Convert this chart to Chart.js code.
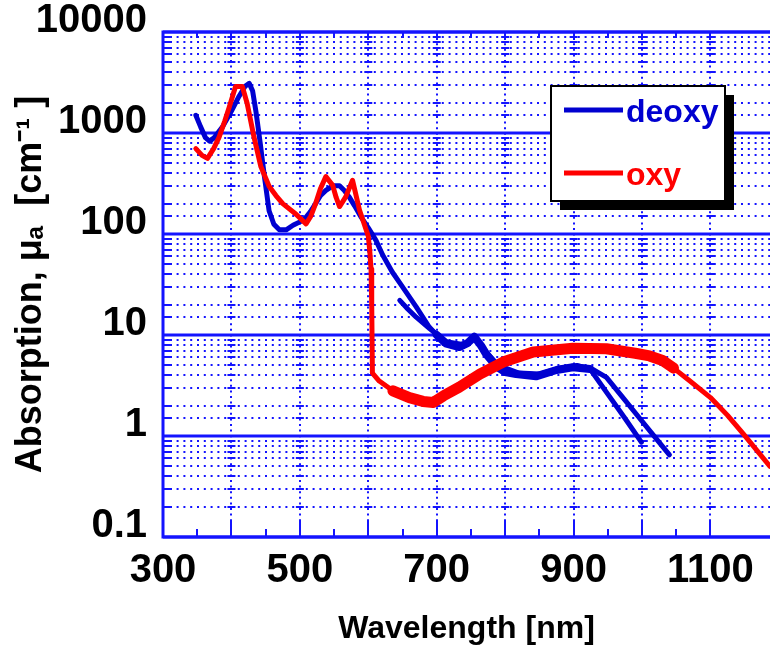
<!DOCTYPE html>
<html>
<head>
<meta charset="utf-8">
<script src="https://cdn.jsdelivr.net/npm/chart.js@4.4.1/dist/chart.umd.min.js"></script>
<style>
  html, body { margin: 0; padding: 0; background: #fff; }
  canvas { display: block; }
</style>
</head>
<body>
<canvas id="myChart" width="770" height="645"></canvas>
<script>
// absorption spectra: wavelength [nm] and mu_a [cm-1]
var deoxyWavelength = [348, 355, 362, 368, 375, 387, 400, 411, 420, 426, 431, 436, 442, 448, 455, 462, 470, 480, 490, 506,
  515, 523, 530, 538, 548, 558, 565, 572, 580, 590, 600, 611, 621, 635, 650, 670, 689, 700, 714, 733,
  745, 755, 765, 772, 787, 800, 816, 845, 875, 899, 924, 950, 975, 999];
var deoxyAbsorption = [1500, 1150, 900, 830, 900, 1150, 1650, 2300, 2900, 3100, 2600, 1600, 800, 380, 170, 125, 110, 110, 122, 138,
  165, 200, 240, 270, 300, 300, 270, 233, 190, 145, 115, 87, 62, 42, 30, 19, 12, 10, 8.2, 7.6,
  8.3, 9.6, 7.8, 6.5, 4.9, 4.3, 4.1, 3.9, 4.5, 4.8, 4.6, 2.6, 1.5, 0.87];

// second deoxy data set (the branch with diamond markers)
var deoxy2Wavelength = [646, 658, 670, 690, 714, 740, 755, 772, 790, 820, 850, 880, 905, 930, 948, 970, 990, 1015, 1040];
var deoxy2Absorption = [22, 18, 15, 11.5, 8.6, 8, 9.4, 6.8, 5, 4.2, 4.1, 4.7, 5, 4.5, 3.8, 2.5, 1.7, 1.05, 0.65];

var oxyWavelength = [348, 357, 365, 374, 382, 390, 397, 406, 416, 423, 433, 443, 455, 465, 475, 494, 509, 516, 523, 530,
  538, 548, 553, 558, 567, 577, 587, 600, 602, 604, 605, 606, 616, 636, 660, 680, 695, 710, 733, 763,
  797, 841, 899, 948, 990, 1011, 1030, 1046, 1070, 1100, 1125, 1148, 1187];
var oxyAbsorption = [700, 600, 560, 700, 910, 1300, 1820, 2880, 2880, 1960, 910, 465, 297, 240, 200, 158, 126, 150, 200, 280,
  370, 303, 230, 187, 233, 340, 174, 95, 70, 45, 20, 4.2, 3.5, 2.8, 2.4, 2.2, 2.15, 2.5, 3.05, 4.1,
  5.4, 6.8, 7.4, 7.3, 6.6, 6.2, 5.6, 4.7, 3.5, 2.4, 1.6, 1.05, 0.5];

var xTickValues = [300, 500, 700, 900, 1100];
var yTickValues = [0.1, 1, 10, 100, 1000, 10000];

var FONT = "'Liberation Sans', Arial, sans-serif";
var gridBlue = '#1414ff';
var deoxyColor = '#0000d0';
var oxyColor = '#ff0000';

function toPoints(xs, ys) {
  return xs.map(function(x, i) { return {x: x, y: ys[i]}; });
}

function isDecade(v) {
  var l = Math.log10(v);
  return Math.abs(l - Math.round(l)) < 1e-6;
}

function seg(ctx, x1, y1, x2, y2) {
  ctx.beginPath();
  ctx.moveTo(x1, y1);
  ctx.lineTo(x2, y2);
  ctx.stroke();
}

// graph-paper style grid, drawn from the scales' own ticks
var gridPlugin = {
  id: 'paperGrid',
  beforeDatasetsDraw: function(chart) {
    var ctx = chart.ctx, a = chart.chartArea;
    var xs = chart.scales.x, ys = chart.scales.y;
    var majorX = xs.ticks.filter(function(t) { return t.value % 100 === 0 && t.value > xs.min; });
    ctx.save();
    ctx.strokeStyle = gridBlue;
    ctx.lineCap = 'butt';

    ys.ticks.forEach(function(t) {
      var py = Math.round(ys.getPixelForValue(t.value));
      if (isDecade(t.value)) {
        ctx.setLineDash([]);
        ctx.lineWidth = 3;
        seg(ctx, a.left, py, a.right, py);
        return;
      }
      ctx.lineWidth = 2;
      ctx.setLineDash([2, 4.8]);
      seg(ctx, a.left, py, a.right, py);
      ctx.setLineDash([]);
      seg(ctx, a.left, py, a.left + 9, py);
      majorX.forEach(function(m) {
        var px = xs.getPixelForValue(m.value);
        seg(ctx, px - 4, py, px + 4, py);
      });
    });

    ctx.lineWidth = 2;
    ctx.setLineDash([2, 3.6]);
    majorX.forEach(function(m) {
      var px = Math.round(xs.getPixelForValue(m.value));
      seg(ctx, px, a.top, px, a.bottom);
    });

    ctx.setLineDash([]);
    xs.ticks.forEach(function(t) {
      if (t.value % 50 !== 0) return;
      var px = Math.round(xs.getPixelForValue(t.value));
      var major = t.value % 100 === 0;
      ctx.lineWidth = 2;
      seg(ctx, px, a.bottom, px, a.bottom - (major ? 16 : 8));
      seg(ctx, px, a.top, px, a.top + (major ? 8 : 6));
    });

    ctx.lineWidth = 3;
    ctx.strokeRect(a.left, a.top, a.right - a.left + 6, a.bottom - a.top);
    ctx.restore();
  }
};

// boxed legend with a drop shadow
var legendPlugin = {
  id: 'boxLegend',
  afterDatasetsDraw: function(chart) {
    var ctx = chart.ctx, a = chart.chartArea;
    var bx = a.left + 388, by = a.top + 54, bw = 174, bh = 115;
    ctx.save();
    ctx.fillStyle = '#000';
    ctx.fillRect(bx + 9, by + 9, bw, bh);
    ctx.fillStyle = '#fff';
    ctx.fillRect(bx, by, bw, bh);
    ctx.lineWidth = 2;
    ctx.strokeStyle = '#000';
    ctx.strokeRect(bx, by, bw, bh);
    var items = chart.data.datasets.filter(function(d) { return d.inLegend; });
    items.forEach(function(d, i) {
      var ly = by + 24 + i * 63;
      ctx.strokeStyle = d.borderColor;
      ctx.lineWidth = 5;
      seg(ctx, bx + 13, ly, bx + 72, ly);
      ctx.fillStyle = d.borderColor;
      ctx.font = 'bold 32px ' + FONT;
      ctx.textBaseline = 'middle';
      ctx.fillText(d.label, bx + 75, ly + 3);
    });
    ctx.restore();
  }
};

function thickBetween(lo, hi, wide, thin) {
  return function(c) {
    return (c.p0.parsed.x >= lo && c.p1.parsed.x <= hi) ? wide : thin;
  };
}

var ctx = document.getElementById('myChart').getContext('2d');
new Chart(ctx, {
  type: 'line',
  data: {
    datasets: [
      {
        label: 'deoxy',
        inLegend: true,
        data: toPoints(deoxyWavelength, deoxyAbsorption),
        borderColor: deoxyColor,
        borderWidth: 5,
        segment: { borderWidth: thickBetween(700, 924, 8, 5) },
        order: 1
      },
      {
        label: 'deoxy (2)',
        inLegend: false,
        data: toPoints(deoxy2Wavelength, deoxy2Absorption),
        borderColor: deoxyColor,
        borderWidth: 5,
        order: 2
      },
      {
        label: 'oxy',
        inLegend: true,
        data: toPoints(oxyWavelength, oxyAbsorption),
        borderColor: oxyColor,
        borderWidth: 5,
        segment: { borderWidth: thickBetween(636, 1046, 11, 5) },
        order: 0
      }
    ]
  },
  options: {
    responsive: false,
    animation: false,
    devicePixelRatio: 1,
    layout: { padding: { top: 32, left: 0, right: 0, bottom: 0 } },
    elements: {
      point: { radius: 0, hoverRadius: 0 },
      line: { tension: 0, fill: false, borderJoinStyle: 'round', borderCapStyle: 'round' }
    },
    plugins: {
      legend: { display: false },
      tooltip: { enabled: false }
    },
    scales: {
      x: {
        type: 'linear',
        min: 300,
        max: 1187,
        grid: { display: false, drawTicks: false },
        border: { display: false },
        ticks: {
          stepSize: 50,
          autoSkip: false,
          maxRotation: 0,
          padding: 10,
          color: '#000',
          font: { family: FONT, size: 40, weight: 'bold' },
          callback: function(v) { return xTickValues.indexOf(v) >= 0 ? String(v) : ''; }
        },
        title: {
          display: true,
          text: 'Wavelength [nm]',
          color: '#000',
          padding: 0,
          font: { family: FONT, size: 32, weight: 'bold', lineHeight: 1 }
        },
        afterFit: function(s) { s.height = 108; s.paddingLeft = 0; s.paddingRight = 0; }
      },
      y: {
        type: 'logarithmic',
        min: 0.1,
        max: 10000,
        grid: { display: false, drawTicks: false },
        border: { display: false },
        ticks: {
          autoSkip: false,
          padding: 16,
          labelOffset: -11,
          color: '#000',
          font: { family: FONT, size: 40, weight: 'bold' },
          callback: function(v) {
            for (var i = 0; i < yTickValues.length; i++) {
              if (Math.abs(Math.log10(v) - Math.log10(yTickValues[i])) < 1e-6) return String(yTickValues[i]);
            }
            return '';
          }
        },
        title: {
          display: true,
          text: 'Absorption, \u03BC\u2090  [cm\u207B\u00B9 ]',
          color: '#000',
          padding: { top: 13, bottom: 0 },
          font: { family: FONT, size: 36, weight: 'bold', lineHeight: 1 }
        },
        afterFit: function(s) { s.width = 163; s.paddingTop = 0; s.paddingBottom = 0; }
      }
    }
  },
  plugins: [gridPlugin, legendPlugin]
});
</script>
</body>
</html>
